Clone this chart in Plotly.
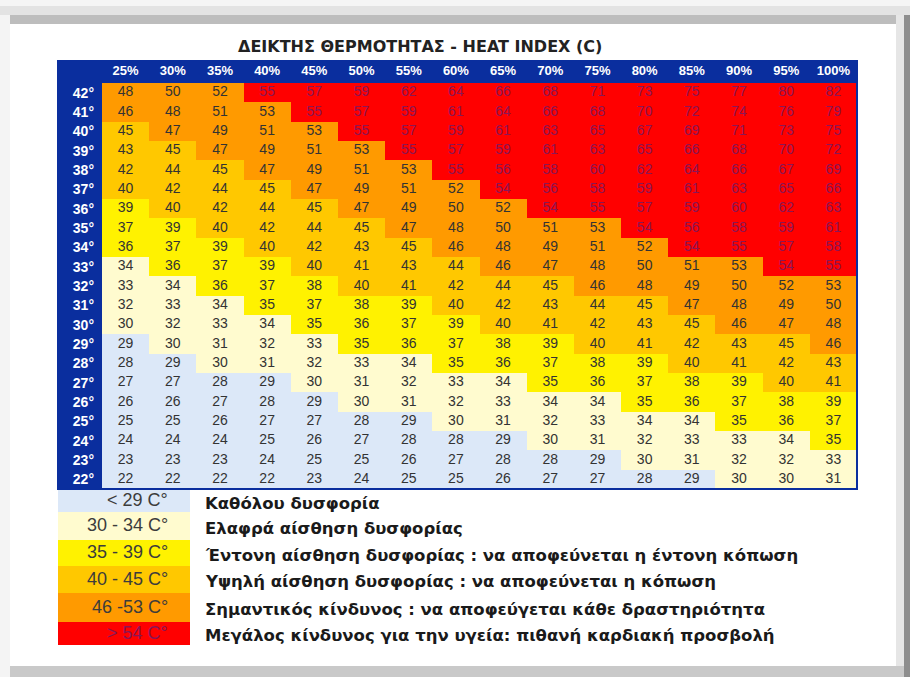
import plotly.graph_objects as go

# ---------------- data ----------------
humidity = ["25%", "30%", "35%", "40%", "45%", "50%", "55%", "60%",
            "65%", "70%", "75%", "80%", "85%", "90%", "95%", "100%"]
temps = ["42°", "41°", "40°", "39°", "38°", "37°", "36°", "35°", "34°", "33°", "32°",
         "31°", "30°", "29°", "28°", "27°", "26°", "25°", "24°", "23°", "22°"]

row_42 = [48, 50, 52, 55, 57, 59, 62, 64, 66, 68, 71, 73, 75, 77, 80, 82]
row_41 = [46, 48, 51, 53, 55, 57, 59, 61, 64, 66, 68, 70, 72, 74, 76, 79]
row_40 = [45, 47, 49, 51, 53, 55, 57, 59, 61, 63, 65, 67, 69, 71, 73, 75]
row_39 = [43, 45, 47, 49, 51, 53, 55, 57, 59, 61, 63, 65, 66, 68, 70, 72]
row_38 = [42, 44, 45, 47, 49, 51, 53, 55, 56, 58, 60, 62, 64, 66, 67, 69]
row_37 = [40, 42, 44, 45, 47, 49, 51, 52, 54, 56, 58, 59, 61, 63, 65, 66]
row_36 = [39, 40, 42, 44, 45, 47, 49, 50, 52, 54, 55, 57, 59, 60, 62, 63]
row_35 = [37, 39, 40, 42, 44, 45, 47, 48, 50, 51, 53, 54, 56, 58, 59, 61]
row_34 = [36, 37, 39, 40, 42, 43, 45, 46, 48, 49, 51, 52, 54, 55, 57, 58]
row_33 = [34, 36, 37, 39, 40, 41, 43, 44, 46, 47, 48, 50, 51, 53, 54, 55]
row_32 = [33, 34, 36, 37, 38, 40, 41, 42, 44, 45, 46, 48, 49, 50, 52, 53]
row_31 = [32, 33, 34, 35, 37, 38, 39, 40, 42, 43, 44, 45, 47, 48, 49, 50]
row_30 = [30, 32, 33, 34, 35, 36, 37, 39, 40, 41, 42, 43, 45, 46, 47, 48]
row_29 = [29, 30, 31, 32, 33, 35, 36, 37, 38, 39, 40, 41, 42, 43, 45, 46]
row_28 = [28, 29, 30, 31, 32, 33, 34, 35, 36, 37, 38, 39, 40, 41, 42, 43]
row_27 = [27, 27, 28, 29, 30, 31, 32, 33, 34, 35, 36, 37, 38, 39, 40, 41]
row_26 = [26, 26, 27, 28, 29, 30, 31, 32, 33, 34, 34, 35, 36, 37, 38, 39]
row_25 = [25, 25, 26, 27, 27, 28, 29, 30, 31, 32, 33, 34, 34, 35, 36, 37]
row_24 = [24, 24, 24, 25, 26, 27, 28, 28, 29, 30, 31, 32, 33, 33, 34, 35]
row_23 = [23, 23, 23, 24, 25, 25, 26, 27, 28, 28, 29, 30, 31, 32, 32, 33]
row_22 = [22, 22, 22, 22, 23, 24, 25, 25, 26, 27, 27, 28, 29, 30, 30, 31]

heat_index = [row_42, row_41, row_40, row_39, row_38, row_37, row_36, row_35,
              row_34, row_33, row_32, row_31, row_30, row_29, row_28, row_27,
              row_26, row_25, row_24, row_23, row_22]

legend_ranges = ["< 29 C°", "30 - 34 C°", "35 - 39 C°", "40 - 45 C°", "46 -53 C°", "> 54 C°"]
legend_upper = [29, 34, 39, 45, 53]
legend_texts = [
    "Καθόλου δυσφορία",
    "Ελαφρά αίσθηση δυσφορίας",
    "Έντονη αίσθηση δυσφορίας : να αποφεύνεται η έντονη κόπωση",
    "Υψηλή αίσθηση δυσφορίας : να αποφεύνεται η κόπωση",
    "Σημαντικός κίνδυνος : να αποφεύγεται κάθε δραστηριότητα",
    "Μεγάλος κίνδυνος για την υγεία: πιθανή καρδιακή προσβολή",
]
title_text = "ΔΕΙΚΤΗΣ ΘΕΡΜΟΤΗΤΑΣ - HEAT INDEX (C)"

# ---------------- styling ----------------
band_colors = ["#dce8f8", "#fffbcf", "#fff200", "#ffc800", "#ff9a00", "#ff0000"]
text_colors = ["#333333", "#333333", "#333333", "#333333", "#333333", "#8a1656"]
NAVY = "#0a2e9e"

W, H = 910, 677
L, R, T, B = 102, 857, 83, 489   # cell area in pixels
HEAD_T, TAB_L = 61, 58


def cat(v):
    return sum(v > u for u in legend_upper)


z = [[cat(v) for v in row] for row in heat_index]
n = len(band_colors)
colorscale = []
for i, c in enumerate(band_colors):
    colorscale.append([i / n, c])
    colorscale.append([(i + 1) / n, c])


def px(x):
    return (x - L) / (R - L)


def py(y):
    return (B - y) / (B - T)


fig = go.Figure()
fig.add_trace(go.Heatmap(
    x=humidity, y=temps, z=z, colorscale=colorscale, zmin=-0.5, zmax=n - 0.5,
    showscale=False, hoverinfo="skip", xgap=0, ygap=0,
))

sx, sy, st, sc = [], [], [], []
for ti, t in enumerate(temps):
    for hi, h in enumerate(humidity):
        v = heat_index[ti][hi]
        sx.append(h)
        sy.append(t)
        st.append(str(v))
        sc.append(text_colors[cat(v)])
fig.add_trace(go.Scatter(
    x=sx, y=sy, text=st, mode="text", hoverinfo="skip",
    textfont=dict(family="Liberation Sans, Arial", size=14, color=sc),
    textposition="middle center", showlegend=False,
))

shapes = []
# frame / background decorations
shapes.append(dict(type="rect", xref="paper", yref="paper", x0=px(0), x1=px(W), y0=py(0), y1=py(6),
                   fillcolor="#f5f5f5", line_width=0, layer="below"))
shapes.append(dict(type="rect", xref="paper", yref="paper", x0=px(0), x1=px(W), y0=py(6), y1=py(15),
                   fillcolor="#e3e3e3", line_width=0, layer="below"))
shapes.append(dict(type="rect", xref="paper", yref="paper", x0=px(10), x1=px(W), y0=py(15), y1=py(24),
                   fillcolor="#bdbdbd", line_width=0, layer="below"))
shapes.append(dict(type="rect", xref="paper", yref="paper", x0=px(0), x1=px(10), y0=py(15), y1=py(H),
                   fillcolor="#f4f4f4", line_width=0, layer="below"))
shapes.append(dict(type="rect", xref="paper", yref="paper", x0=px(896), x1=px(904), y0=py(15), y1=py(H),
                   fillcolor="#e6e6e6", line_width=0, layer="below"))
shapes.append(dict(type="rect", xref="paper", yref="paper", x0=px(904), x1=px(W), y0=py(15), y1=py(H),
                   fillcolor="#8e8e8e", line_width=0, layer="below"))
shapes.append(dict(type="rect", xref="paper", yref="paper", x0=px(10), x1=px(904), y0=py(666), y1=py(H),
                   fillcolor="#c9c9c9", line_width=0, layer="below"))
# navy header and side column
shapes.append(dict(type="rect", xref="paper", yref="paper", x0=px(TAB_L), x1=px(R), y0=py(HEAD_T), y1=py(T),
                   fillcolor=NAVY, line_width=0, layer="below"))
shapes.append(dict(type="rect", xref="paper", yref="paper", x0=px(TAB_L), x1=px(L), y0=py(T), y1=py(B),
                   fillcolor=NAVY, line_width=0, layer="below"))
# outer table border
shapes.append(dict(type="rect", xref="paper", yref="paper", x0=px(TAB_L), x1=px(R), y0=py(HEAD_T), y1=py(B),
                   line=dict(color=NAVY, width=2), fillcolor="rgba(0,0,0,0)", layer="above"))

# legend boxes
box_edges = [490, 512, 540, 566, 593, 622, 645]
annotations = []
for i in range(n):
    shapes.append(dict(type="rect", xref="paper", yref="paper", x0=px(TAB_L), x1=px(190),
                       y0=py(box_edges[i]), y1=py(box_edges[i + 1]),
                       fillcolor=band_colors[i], line_width=0, layer="below"))
    ymid = (box_edges[i] + box_edges[i + 1]) / 2
    annotations.append(dict(xref="paper", yref="paper", x=px(170), y=py(ymid - 1), xanchor="right",
                            yanchor="middle", text=legend_ranges[i], showarrow=False,
                            font=dict(family="Liberation Sans, Arial", size=18,
                                      color=("#8a1656" if i == n - 1 else "#3c3c3c"))))
    annotations.append(dict(xref="paper", yref="paper", x=px(203), y=py(ymid + 2), xanchor="left",
                            yanchor="middle", text="<b>" + legend_texts[i] + "</b>", showarrow=False,
                            font=dict(family="DejaVu Sans, Verdana", size=16.5, color="#1a1a1a")))

annotations.append(dict(xref="paper", yref="paper", x=px(420), y=py(46), xanchor="center",
                        yanchor="middle", text="<b>" + title_text + "</b>", showarrow=False,
                        font=dict(family="DejaVu Sans", size=16, color="#222222")))

fig.update_layout(
    width=W, height=H,
    margin=dict(l=L, r=W - R, t=T, b=H - B, pad=0, autoexpand=False),
    paper_bgcolor="white", plot_bgcolor="rgba(0,0,0,0)",
    shapes=shapes, annotations=annotations, showlegend=False,
    xaxis=dict(side="top", type="category", showgrid=False, zeroline=False, showline=False,
               ticks="", ticklabelstandoff=4, range=[-0.5, len(humidity) - 0.5], automargin=False,
               tickfont=dict(family="Liberation Sans, Arial", size=13, color="white", weight="bold"),
               fixedrange=True),
    yaxis=dict(type="category", showgrid=False, zeroline=False, showline=False,
               ticks="", ticklabelstandoff=7, range=[len(temps) - 0.5, -0.5], automargin=False,
               tickfont=dict(family="Liberation Sans, Arial", size=14, color="white", weight="bold"),
               fixedrange=True),
)

fig.write_html("out.html", config={"displayModeBar": False},
               post_script="document.body.style.margin='0';")
